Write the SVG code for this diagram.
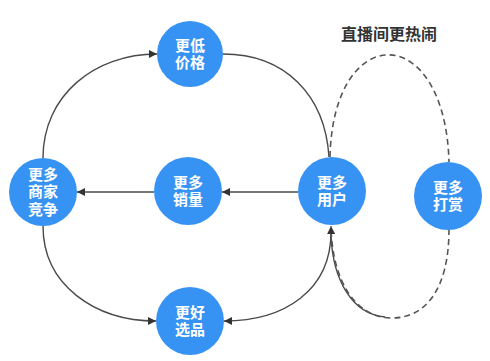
<svg xmlns="http://www.w3.org/2000/svg" width="490" height="361" viewBox="0 0 490 361">
<style>
.node circle{fill:#3793f3}
.node text{fill:#fff;font-family:"Noto Sans CJK SC","Noto Sans",sans-serif;font-size:15px;font-weight:bold;text-anchor:middle}
.edge{fill:none;stroke:#4a4a4a;stroke-width:1.4}
.dash{fill:none;stroke:#555;stroke-width:1.6;stroke-dasharray:6 4}
.title{fill:#333;font-family:"Noto Sans CJK SC","Noto Sans",sans-serif;font-size:16px;font-weight:bold;text-anchor:middle}
</style>
<defs>
<marker id="arr" viewBox="0 0 10 10" refX="10" refY="5" markerWidth="9" markerHeight="8" markerUnits="userSpaceOnUse" orient="auto">
<path d="M0,0 L10,5 L0,10 z" fill="#333"/>
</marker>
</defs>
<rect width="490" height="361" fill="#fff"/>
<g id="connectors">
<path class="edge" d="M43,158 C43,95 95,54 157,54" marker-end="url(#arr)"/>
<path class="edge" d="M223,54 C285,54 325,95 329,157"/>
<path class="edge" d="M298,192 L222,192" marker-end="url(#arr)"/>
<path class="edge" d="M154,192 L77,192" marker-end="url(#arr)"/>
<path class="edge" d="M43,226 C43,285 95,321 156,321" marker-end="url(#arr)"/>
<path class="edge" d="M331,232 C331,290 285,321 224,321" marker-end="url(#arr)"/>
<path class="dash" d="M330,157 C333,20 445,20 449,162"/>
<path class="edge" d="M385,317 C352,314 333,280 331,236"/>
<path class="dash" d="M449,229 C449,290 425,318 392,318 C355,318 332,280 331,226" marker-end="url(#arr)"/>
</g>
<text class="title" x="389" y="40">直播间更热闹</text>
<g id="n-price" class="node"><circle cx="190" cy="54" r="33"/><text x="190" y="51">更低<tspan x="190" dy="17">价格</tspan></text></g>
<g id="n-merchant" class="node"><circle cx="43" cy="192" r="34"/><text x="43" y="179.5">更多<tspan x="43" dy="17.5">商家</tspan><tspan x="43" dy="17.5">竞争</tspan></text></g>
<g id="n-sales" class="node"><circle cx="188" cy="191" r="34"/><text x="188" y="188">更多<tspan x="188" dy="17">销量</tspan></text></g>
<g id="n-users" class="node"><circle cx="332" cy="191" r="34"/><text x="332" y="188">更多<tspan x="332" dy="17">用户</tspan></text></g>
<g id="n-tips" class="node"><circle cx="448" cy="196" r="34"/><text x="448" y="193">更多<tspan x="448" dy="17">打赏</tspan></text></g>
<g id="n-select" class="node"><circle cx="190" cy="321" r="34"/><text x="190" y="318">更好<tspan x="190" dy="17">选品</tspan></text></g>
</svg>
